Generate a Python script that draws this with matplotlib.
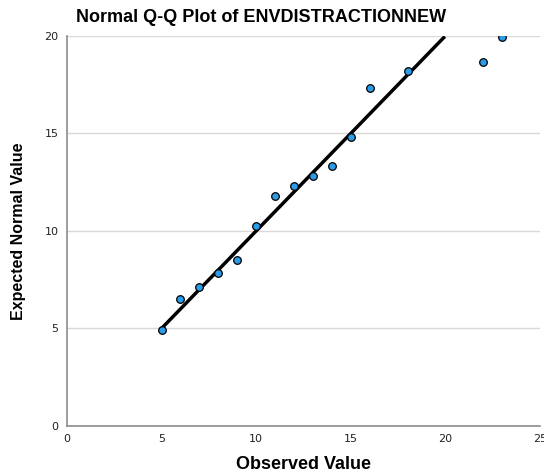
import matplotlib.pyplot as plt
import numpy as np

# observed vs expected normal values
observed = [5, 6, 7, 8, 9, 10, 11, 12, 13, 14, 15, 16, 18, 22, 23]
expected = [4.92, 6.5, 7.13, 7.85, 8.5, 10.25, 11.8, 12.3, 12.8, 13.3, 14.8, 17.3, 18.18, 18.68, 19.92]
line_x = [5, 19.9]

fig = plt.figure(figsize=(5.44, 4.73), dpi=100)
ax = fig.add_axes([0.123, 0.0994, 0.870, 0.825])

ax.plot(line_x, line_x, color='black', linewidth=2.5, zorder=2)
ax.scatter(observed, expected, s=30, color='#2b9ce8', edgecolors='black', linewidths=0.9, zorder=3)

ax.set_xlim(0, 25)
ax.set_ylim(0, 20)
ax.set_xticks([0, 5, 10, 15, 20, 25])
ax.set_yticks([0, 5, 10, 15, 20])
ax.yaxis.grid(True, color='#d9d9d9', linewidth=1)
ax.set_axisbelow(True)
for s in ['top', 'right']:
    ax.spines[s].set_visible(False)
for s in ['left', 'bottom']:
    ax.spines[s].set_color('#8c8c8c')
    ax.spines[s].set_linewidth(1.2)
ax.tick_params(length=0, labelsize=8, colors='#222222', pad=6)

ax.set_xlabel('Observed Value', fontsize=13, fontweight='bold', family='Liberation Sans')
ax.xaxis.set_label_coords(0.499, -0.098)
ax.xaxis.label.set_va('center')
ax.set_ylabel('Expected Normal Value', fontsize=11.5, fontweight='bold', family='Liberation Sans')
ax.yaxis.set_label_coords(-0.1015, 0.5)
ax.yaxis.label.set_va('center')
fig.text(0.48, 0.964, 'Normal Q-Q Plot of ENVDISTRACTIONNEW', ha='center', va='center',
         fontsize=13, fontweight='bold', family='Liberation Sans')

fig.savefig('out.png')
